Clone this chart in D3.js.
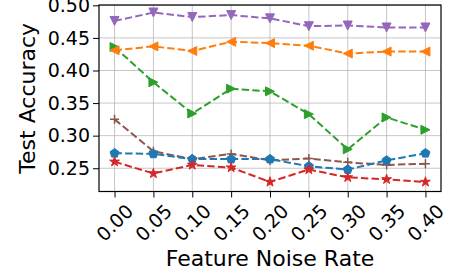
<!DOCTYPE html>
<html><head><meta charset="utf-8">
<script src="https://cdn.jsdelivr.net/npm/d3@7"></script>
<style>html,body{margin:0;padding:0;background:#fff;}svg{display:block;font-family:"DejaVu Sans",sans-serif;}</style>
</head><body>
<svg id="chart" width="450" height="270"></svg>
<script>
const noiseRates = [0.00, 0.05, 0.10, 0.15, 0.20, 0.25, 0.30, 0.35, 0.40];
const xTickLabels = ["0.00","0.05","0.10","0.15","0.20","0.25","0.30","0.35","0.40"];
const yTicks = [0.25, 0.30, 0.35, 0.40, 0.45, 0.50];
const seriesBrown  = [0.325, 0.276, 0.264, 0.272, 0.262, 0.265, 0.259, 0.255, 0.257];
const seriesBlue   = [0.273, 0.272, 0.264, 0.264, 0.264, 0.253, 0.248, 0.262, 0.273];
const seriesRed    = [0.260, 0.242, 0.255, 0.251, 0.229, 0.248, 0.236, 0.233, 0.229];
const seriesGreen  = [0.436, 0.382, 0.334, 0.372, 0.368, 0.333, 0.279, 0.328, 0.309];
const seriesOrange = [0.431, 0.437, 0.430, 0.444, 0.442, 0.438, 0.426, 0.429, 0.429];
const seriesPurple = [0.476, 0.489, 0.482, 0.485, 0.480, 0.468, 0.469, 0.466, 0.466];

const series = [
  {values: seriesBrown,  color: "#8c564b", marker: "plus"},
  {values: seriesBlue,   color: "#1f77b4", marker: "pentagon"},
  {values: seriesRed,    color: "#d62728", marker: "star"},
  {values: seriesGreen,  color: "#2ca02c", marker: "triRight"},
  {values: seriesOrange, color: "#ff7f0e", marker: "triLeft"},
  {values: seriesPurple, color: "#9467bd", marker: "triDown"}
];

const L = 99, R = 441, T = 5, B = 191.5;
const svg = d3.select("#chart");
const x = d3.scaleLinear().domain([-0.02, 0.42]).range([L, R]);
const y = d3.scaleLinear().domain([0.2143, 0.5005]).range([B, T]);

// grid
const g = svg.append("g");
g.selectAll(".vg").data(noiseRates).join("line")
  .attr("x1", d => x(d)).attr("x2", d => x(d)).attr("y1", T).attr("y2", B)
  .attr("stroke", "#b0b0b0").attr("stroke-width", 1).attr("opacity", 0.7);
g.selectAll(".hg").data(yTicks).join("line")
  .attr("x1", L).attr("x2", R).attr("y1", d => y(d)).attr("y2", d => y(d))
  .attr("stroke", "#b0b0b0").attr("stroke-width", 1).attr("opacity", 0.7);

// axes
const xAxis = d3.axisBottom(x).tickValues(noiseRates).tickSize(6).tickFormat("");
const yAxis = d3.axisLeft(y).tickValues(yTicks).tickSize(6).tickFormat(d3.format(".2f")).tickPadding(3);
const gx = svg.append("g").attr("transform", `translate(0,${B})`).call(xAxis);
gx.select(".domain").remove();
gx.selectAll("line").attr("stroke", "#000").attr("stroke-width", 1);
const gy = svg.append("g").attr("transform", `translate(${L},0)`).call(yAxis);
gy.select(".domain").remove();
gy.selectAll("line").attr("stroke", "#000").attr("stroke-width", 1);
gy.selectAll("text").attr("font-size", "19px").attr("fill", "#000").attr("font-family", "DejaVu Sans");

// rotated x tick labels
svg.append("g").selectAll("text").data(noiseRates).join("text")
  .attr("transform", (d) => `translate(${x(d)},${222.5}) rotate(-45)`)
  .attr("text-anchor", "middle").attr("dominant-baseline", "central")
  .attr("font-size", "19px").attr("fill", "#000")
  .text((d, i) => xTickLabels[i]);

// markers
function markerPath(type, s) {
  const r = s / 2;
  if (type === "triDown") return `M${-r},${-r}L${r},${-r}L0,${r}Z`;
  if (type === "triLeft") return `M${-r},0L${r},${-r}L${r},${r}Z`;
  if (type === "triRight") return `M${r},0L${-r},${-r}L${-r},${r}Z`;
  if (type === "plus") return `M${-r},0L${r},0M0,${-r}L0,${r}`;
  if (type === "pentagon") {
    let p = "";
    for (let k = 0; k < 5; k++) {
      const a = -Math.PI / 2 + k * 2 * Math.PI / 5;
      p += (k ? "L" : "M") + (r * 1.05 * Math.cos(a)).toFixed(2) + "," + (r * 1.05 * Math.sin(a)).toFixed(2);
    }
    return p + "Z";
  }
  if (type === "star") {
    let p = "";
    for (let k = 0; k < 10; k++) {
      const a = -Math.PI / 2 + k * Math.PI / 5;
      const rr = k % 2 ? r * 1.15 * 0.381966 : r * 1.15;
      p += (k ? "L" : "M") + (rr * Math.cos(a)).toFixed(2) + "," + (rr * Math.sin(a)).toFixed(2);
    }
    return p + "Z";
  }
}

const clip = svg.append("clipPath").attr("id", "clip").append("rect")
  .attr("x", L).attr("y", T).attr("width", R - L).attr("height", B - T);
const plot = svg.append("g").attr("clip-path", "url(#clip)");
const line = d3.line().x((d, i) => x(noiseRates[i])).y(d => y(d));
series.forEach(s => {
  plot.append("path").datum(s.values).attr("d", line)
    .attr("fill", "none").attr("stroke", s.color).attr("stroke-width", 2)
    .attr("stroke-dasharray", "7.4,3.2");
  plot.selectAll(null).data(s.values).join("path")
    .attr("transform", (d, i) => `translate(${x(noiseRates[i])},${y(d)})`)
    .attr("d", markerPath(s.marker, 9))
    .attr("fill", s.marker === "plus" ? "none" : s.color)
    .attr("stroke", s.color).attr("stroke-width", s.marker === "plus" ? 1.5 : 1);
});

// frame
svg.append("rect").attr("x", L).attr("y", T).attr("width", R - L).attr("height", B - T)
  .attr("fill", "none").attr("stroke", "#000").attr("stroke-width", 1.2);

// axis labels
svg.append("text").attr("x", (L + R) / 2).attr("y", 266).attr("text-anchor", "middle")
  .attr("font-size", "22px").attr("fill", "#000").text("Feature Noise Rate");
svg.append("text").attr("transform", `translate(35,${(T + B) / 2}) rotate(-90)`)
  .attr("text-anchor", "middle").attr("font-size", "22px").attr("fill", "#000").text("Test Accuracy");
</script>
</body></html>
